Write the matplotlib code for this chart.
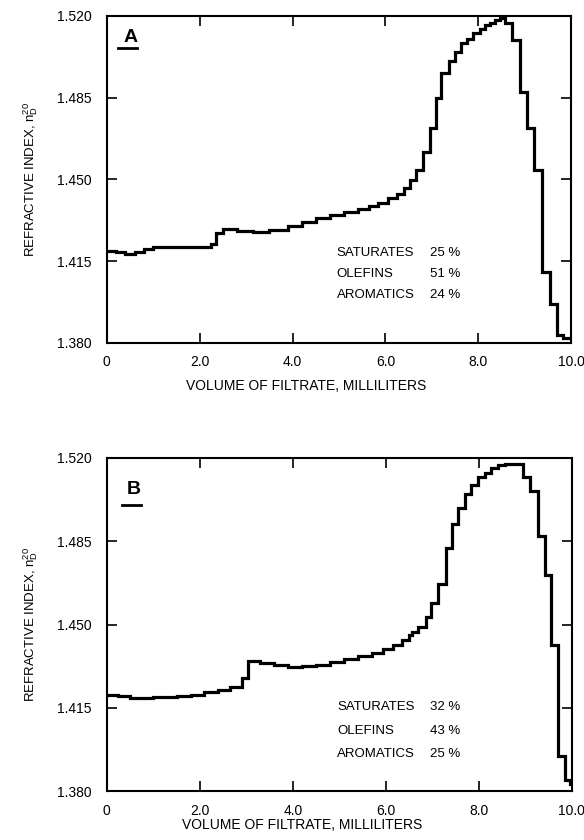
import matplotlib
matplotlib.use("Agg")
import matplotlib.pyplot as plt

plt.rcParams['font.family'] = ['Liberation Sans', 'DejaVu Sans']
plt.rcParams['mathtext.fontset'] = 'custom'
plt.rcParams['mathtext.rm'] = 'Liberation Sans'
plt.rcParams['mathtext.it'] = 'Liberation Sans'

# panel A: step edges (ml) and refractive index per step
edges_a = [0.0, 0.2, 0.4, 0.6, 0.8, 1.0, 1.6, 2.25, 2.35, 2.5,
           2.8, 3.15, 3.5, 3.9, 4.2, 4.5, 4.8, 5.1, 5.4, 5.65,
           5.85, 6.05, 6.25, 6.4, 6.53, 6.66, 6.80, 6.95, 7.09, 7.20,
           7.36, 7.50, 7.62, 7.75, 7.89, 8.04, 8.15, 8.25, 8.36, 8.47,
           8.58, 8.72, 8.90, 9.05, 9.19, 9.37, 9.55, 9.69, 9.83, 10.0]
ri_a = [1.4195, 1.4188, 1.4180, 1.4188, 1.4200, 1.4210, 1.4212, 1.4222, 1.4271, 1.4287,
        1.4280, 1.4275, 1.4283, 1.4300, 1.4318, 1.4334, 1.4346, 1.4358, 1.4372, 1.4385,
        1.4400, 1.4418, 1.4437, 1.4462, 1.4498, 1.4541, 1.4616, 1.4722, 1.4848, 1.4955,
        1.5007, 1.5047, 1.5083, 1.5100, 1.5126, 1.5144, 1.5161, 1.5171, 1.5183, 1.5190,
        1.5169, 1.5097, 1.4876, 1.4722, 1.4541, 1.4105, 1.3966, 1.3834, 1.3820]

# panel B
edges_b = [0.0, 0.25, 0.5, 1.0, 1.5, 1.8, 2.1, 2.4, 2.65, 2.90,
           3.04, 3.3, 3.6, 3.9, 4.2, 4.5, 4.8, 5.1, 5.4, 5.7,
           5.95, 6.15, 6.35, 6.5, 6.56, 6.70, 6.86, 6.98, 7.13, 7.29,
           7.43, 7.55, 7.70, 7.84, 7.99, 8.13, 8.27, 8.42, 8.56, 8.95,
           9.10, 9.28, 9.42, 9.56, 9.71, 9.85, 9.96, 10.0]
ri_b = [1.4204, 1.4198, 1.4193, 1.4196, 1.4200, 1.4206, 1.4215, 1.4225, 1.4236, 1.4274,
        1.4348, 1.4340, 1.4330, 1.4323, 1.4324, 1.4332, 1.4342, 1.4354, 1.4367, 1.4382,
        1.4398, 1.4415, 1.4435, 1.4455, 1.4470, 1.4491, 1.4530, 1.4592, 1.4669, 1.4820,
        1.4921, 1.4991, 1.5047, 1.5086, 1.5118, 1.5138, 1.5156, 1.5170, 1.5175, 1.5121,
        1.5062, 1.4872, 1.4708, 1.4414, 1.3947, 1.3849, 1.3832]

comp_names = ["SATURATES", "OLEFINS", "AROMATICS"]
comp_a = ["25 %", "51 %", "24 %"]
comp_b = ["32 %", "43 %", "25 %"]

x_ticks = [0, 2, 4, 6, 8, 10]
x_labels = ["0", "2.0", "4.0", "6.0", "8.0", "10.0"]
y_ticks = [1.380, 1.415, 1.450, 1.485, 1.520]
y_labels = ["1.380", "1.415", "1.450", "1.485", "1.520"]

fig = plt.figure(figsize=(5.84, 8.4), dpi=100)
ax_a = fig.add_axes([0.183, 0.592, 0.795, 0.389])
ax_b = fig.add_axes([0.183, 0.058, 0.796, 0.397])

panels = [(ax_a, edges_a, ri_a, comp_a, "A", [1.4185, 1.4095, 1.4005],
           (0.05, 0.935), (0.024, 0.065, 0.902), 7, 0.43),
          (ax_b, edges_b, ri_b, comp_b, "B", [1.4154, 1.4053, 1.3958],
           (0.057, 0.904), (0.032, 0.073, 0.857), 0, 0.42)]

for ax, edges, ri, comp, tag, ypos, tag_xy, uline, lpad, lx in panels:
    ax.stairs(ri, edges, baseline=None, color='black', lw=2.3)
    ax.set_xlim(0, 10)
    ax.set_ylim(1.380, 1.520)
    ax.set_xticks(x_ticks)
    ax.set_xticklabels(x_labels, fontsize=10)
    ax.set_yticks(y_ticks)
    ax.set_yticklabels(y_labels, fontsize=10)
    ax.tick_params(direction='in', length=7, width=1.2, top=True, right=True)
    ax.tick_params(axis='x', pad=9)
    ax.tick_params(axis='y', pad=11)
    for s in ax.spines.values():
        s.set_linewidth(1.5)
    ax.set_xlabel("VOLUME OF FILTRATE, MILLILITERS", fontsize=10, labelpad=lpad, x=lx)
    ax.set_ylabel(r"REFRACTIVE INDEX, $\mathregular{n_D^{20}}$", fontsize=9.5, labelpad=12)
    for name, pct, yv in zip(comp_names, comp, ypos):
        ax.text(4.95, yv, name, fontsize=9.5, va='center')
        ax.text(6.95, yv, pct, fontsize=9.5, va='center')
    ax.text(tag_xy[0], tag_xy[1], tag, transform=ax.transAxes, fontsize=14,
            fontweight='bold', ha='center', va='center')
    ax.plot([uline[0], uline[1]], [uline[2], uline[2]], transform=ax.transAxes,
            color='black', lw=2)

fig.savefig("out.png", dpi=100)
